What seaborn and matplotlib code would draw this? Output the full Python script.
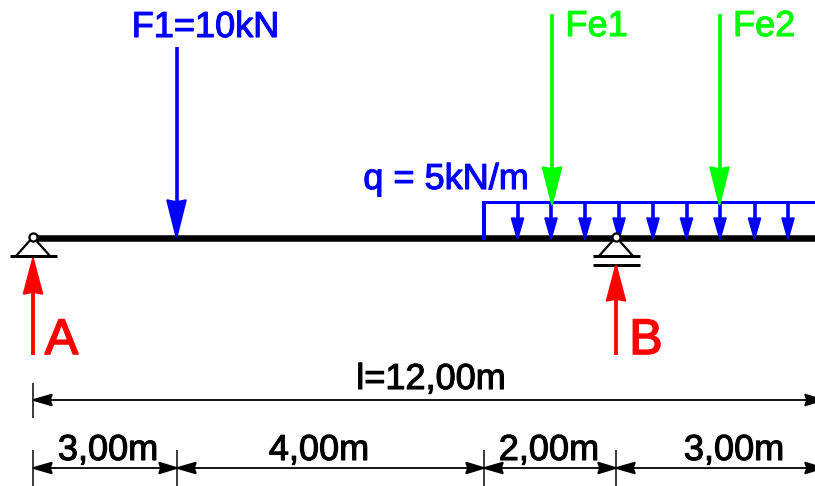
import matplotlib
matplotlib.use("Agg")
import matplotlib.pyplot as plt
import matplotlib.patheffects as pe
import pandas as pd
import seaborn as sns

# Stations along the beam as drawn (the source sketch is not to scale)
beam_stations = [34, 815]
load_q_stations = [484, 815]
load_arrow_stations = [517.5, 551, 585, 619, 653, 686.5, 720, 754.5, 788]
f1_station = 176.5
fe_stations = [552, 719.5]
fe_labels = ["Fe1", "Fe2"]
support_a_station = 33
support_b_station = 616
dim_ticks = [33, 177, 484, 616]
dim_end = 823
dim_labels = ["3,00m", "4,00m", "2,00m", "3,00m"]
dim_label_x = [108, 319, 549, 734]
total_label = "l=12,00m"
f1_label = "F1=10kN"
q_label = "q = 5kN/m"

BLUE, GREEN, RED, BLACK = "#0000ff", "#00ff00", "#ff0000", "#000000"

sns.set_theme(style="white")
plt.rcParams["font.family"] = ["Liberation Sans", "DejaVu Sans"]

fig = plt.figure(figsize=(8.15, 4.86), dpi=100)
ax = fig.add_axes([0, 0, 1, 1])
ax.set_xlim(0, 815)
ax.set_ylim(486, 0)
ax.axis("off")


def seg(x, y, color, lw):
    df = pd.DataFrame({"x": x, "y": y, "s": range(len(x))})
    sns.lineplot(data=df, x="x", y="y", sort=False, estimator=None, color=color,
                 linewidth=lw * 0.72, ax=ax, solid_capstyle="butt", legend=False)


def head(tipx, tipy, dx, dy, half, color, notch=0.0):
    bx, by = tipx + dx, tipy + dy
    if dy != 0:
        pts = [(tipx, tipy), (bx - half, by), (tipx, by - notch * (1 if dy > 0 else -1)), (bx + half, by)]
    else:
        pts = [(tipx, tipy), (bx, by - half), (bx - notch * (1 if dx > 0 else -1), tipy), (bx, by + half)]
    ax.fill(*zip(*pts), color=color, lw=1.2, zorder=5)


def label(x, y, s, color, size=26, ha="center", bold=0.8):
    t = ax.text(x, y, s, color=color, fontsize=size, ha=ha, va="baseline", zorder=7)
    t.set_path_effects([pe.withStroke(linewidth=bold, foreground=color)])


# Beam
seg(beam_stations, [238, 238], BLACK, 6.5)

# Distributed load
seg(load_q_stations, [202, 202], BLUE, 3)
seg([load_q_stations[0]] * 2, [200.5, 240], BLUE, 4)
for x in load_arrow_stations:
    seg([x, x], [202, 222], BLUE, 3.6)
    head(x, 239, 0, -21, 6, BLUE, notch=0.5)

# F1
seg([f1_station] * 2, [47, 205], BLUE, 3.6)
head(f1_station, 238, 0, -38, 9.5, BLUE, notch=2)

# Fe forces
for x, lab in zip(fe_stations, fe_labels):
    seg([x, x], [14, 172], GREEN, 3.6)
    head(x, 205, 0, -38, 9.5, GREEN, notch=2)
    label(x + 13.5, 36, lab, GREEN, ha="left")

# Supports
for x in [support_a_station, support_b_station]:
    seg([x - 17, x, x + 17], [256, 237, 256], BLACK, 2.2)
    seg([x - 23.5, x + 23.5], [256, 256], BLACK, 3)
    ax.scatter([x], [237], s=34, facecolor="white", edgecolor=BLACK, linewidth=1.6, zorder=6)
seg([support_b_station - 23.5, support_b_station + 23.5], [264.5, 264.5], BLACK, 3)

# Reactions
seg([support_a_station] * 2, [355, 288], RED, 3.8)
head(support_a_station, 258, 0, 36, 9.5, RED, notch=2)
seg([support_b_station] * 2, [355, 296], RED, 3.8)
head(support_b_station, 265, 0, 36, 9.5, RED, notch=2)
label(61.5, 354, "A", RED, size=36, bold=1.2)
label(646, 354, "B", RED, size=36, bold=1.2)

# Force labels
label(205.5, 37, f1_label, BLUE)
label(446, 189, q_label, BLUE)

# Total dimension
seg([dim_ticks[0], dim_end], [400, 400], BLACK, 1.8)
seg([dim_ticks[0]] * 2, [383, 418], BLACK, 1.5)
head(dim_ticks[0], 400, 19, 0, 5.5, BLACK, notch=2)
head(dim_end, 400, -18, 0, 5.5, BLACK, notch=2)
label(431, 389, total_label, BLACK)

# Partial dimensions
seg([dim_ticks[0], dim_end], [468, 468], BLACK, 1.8)
for i, x in enumerate(dim_ticks):
    seg([x, x], [450, 486], BLACK, 1.5)
    head(x, 468, 19, 0, 5.5, BLACK, notch=2)
    if i > 0:
        head(x, 468, -18, 0, 5.5, BLACK, notch=2)
head(dim_end, 468, -18, 0, 5.5, BLACK, notch=2)
for x, lab in zip(dim_label_x, dim_labels):
    label(x, 460, lab, BLACK)

fig.savefig("out.png", dpi=100, facecolor="white")
